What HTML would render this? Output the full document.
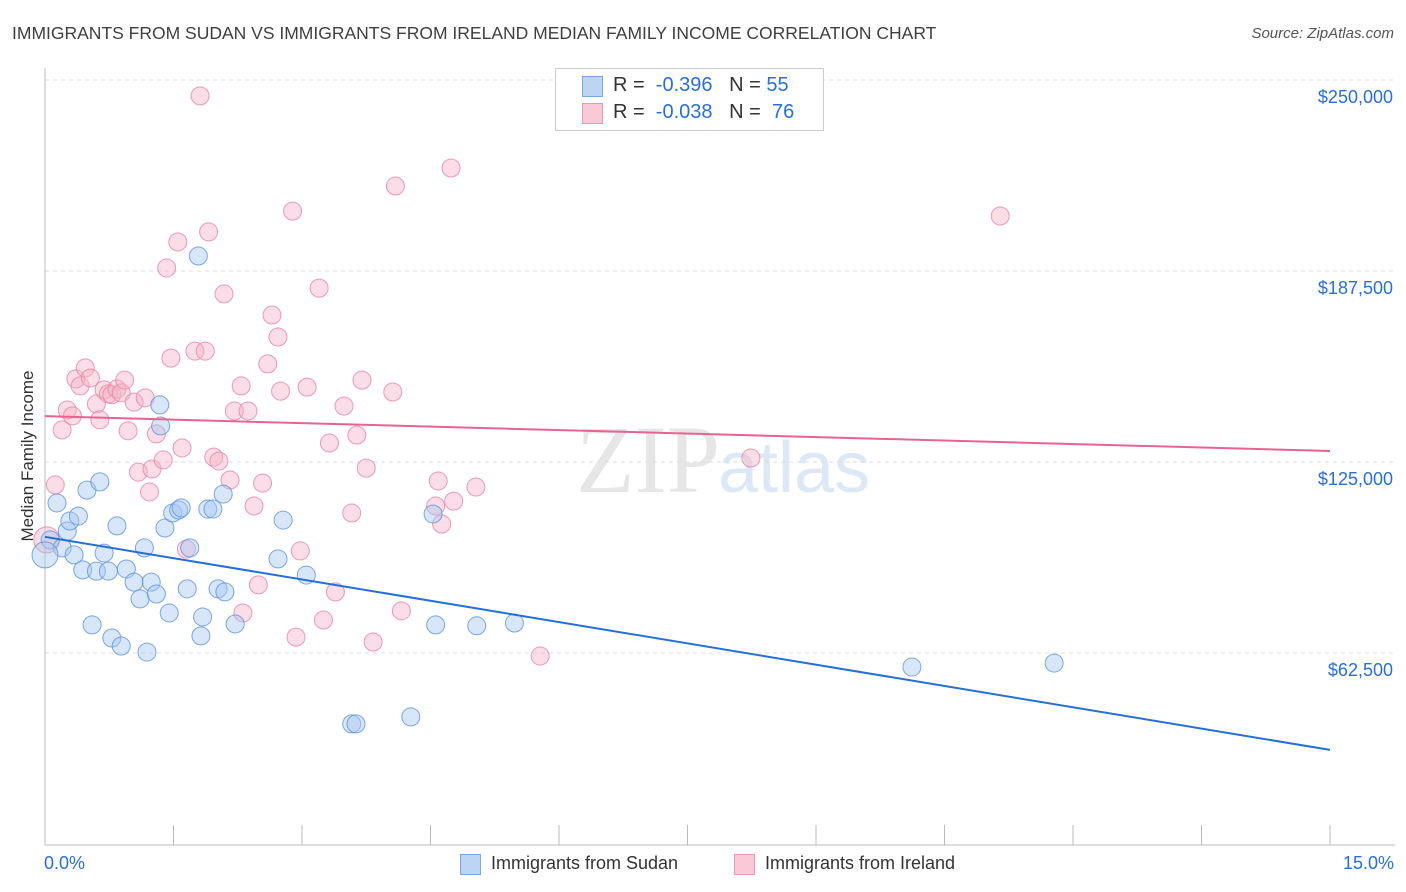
<!DOCTYPE html>
<html><head><meta charset="utf-8"><style>
body{margin:0;background:#fff;font-family:"Liberation Sans",sans-serif;}
#wrap{position:relative;width:1406px;height:892px;overflow:hidden;}
.t{position:absolute;white-space:nowrap;}
</style></head><body>
<div id="wrap">
<div class="t" style="left:12px;top:23px;font-size:17.5px;color:#3f3f3f;">IMMIGRANTS FROM SUDAN VS IMMIGRANTS FROM IRELAND MEDIAN FAMILY INCOME CORRELATION CHART</div>
<div class="t" style="right:12px;top:25px;font-size:15px;color:#555;font-style:italic;">Source: ZipAtlas.com</div>
<svg id="svg" width="1406" height="892" style="position:absolute;left:0;top:0">
<text x="720" y="492" text-anchor="end" font-family="Liberation Serif" font-size="96" fill="#e6e6e6">ZIP</text>
<text x="718" y="492" font-family="Liberation Sans" font-size="72" fill="#dce8f6">atlas</text>
</svg>
<div class="t" style="left:28px;top:456px;font-size:17px;color:#333;transform:translate(-50%,-50%) rotate(-90deg);">Median Family Income</div>
<div style="position:absolute;left:555px;top:68px;width:267px;height:61px;border:1px solid #ccc;background:#fff;"></div>
<div style="position:absolute;left:582px;top:76px;width:19px;height:19px;background:#bcd5f5;border:1px solid #7aa8e4;"></div>
<div class="t" style="left:613px;top:74px;font-size:20px;color:#333;">R = <span style="color:#2b6fd6">&nbsp;-0.396</span> &nbsp;&nbsp;N = <span style="color:#2b6fd6">55</span></div>
<div style="position:absolute;left:582px;top:103px;width:19px;height:19px;background:#f9c9d8;border:1px solid #ec99b3;"></div>
<div class="t" style="left:613px;top:101px;font-size:20px;color:#333;">R = <span style="color:#2b6fd6">&nbsp;-0.038</span> &nbsp;&nbsp;N = <span style="color:#2b6fd6">&nbsp;76</span></div>
<div class="t" style="left:44px;top:853px;font-size:18px;color:#2b6fd6;">0.0%</div>
<div class="t" style="right:12px;top:853px;font-size:18px;color:#2b6fd6;">15.0%</div>
<div style="position:absolute;left:460px;top:854px;width:19px;height:19px;background:#bcd5f5;border:1px solid #7aa8e4;"></div>
<div class="t" style="left:491px;top:853px;font-size:18px;color:#333;">Immigrants from Sudan</div>
<div style="position:absolute;left:734px;top:854px;width:19px;height:19px;background:#f9c9d8;border:1px solid #ec99b3;"></div>
<div class="t" style="left:765px;top:853px;font-size:18px;color:#333;">Immigrants from Ireland</div>
</div>
<script>
const yTicks=[250000,187500,125000,62500];
const yTickLabels=["$250,000","$187,500","$125,000","$62,500"];
const sudanX=[0.06,0.14,0.20,0.26,0.29,0.34,0.39,0.44,0.49,0.55,0.60,0.64,0.69,0.74,0.78,0.84,0.89,0.95,1.04,1.11,1.16,1.19,1.24,1.30,1.34,1.35,1.40,1.45,1.49,1.56,1.59,1.66,1.69,1.79,1.82,1.84,1.90,1.96,2.02,2.08,2.10,2.22,2.72,2.78,3.05,3.58,3.63,4.27,4.53,4.56,5.04,5.48,10.12,11.78,0];
const sudanY=[99500,111600,96900,102400,105700,94600,107300,89700,115800,71700,89300,118500,95200,89300,67400,104100,64800,90000,85700,80200,96900,62800,85700,81800,143700,136800,103400,75600,108300,109300,110000,83500,96900,192400,68100,74300,109600,109600,83500,114500,82500,72000,93300,106000,88000,39300,39300,41600,108000,71700,71400,72300,57900,59200,94600];
const irelandX=[0.02,0.12,0.20,0.26,0.32,0.36,0.41,0.47,0.53,0.60,0.64,0.69,0.74,0.78,0.84,0.89,0.93,0.97,1.04,1.09,1.17,1.22,1.25,1.30,1.38,1.42,1.47,1.55,1.60,1.65,1.75,1.81,1.87,1.91,1.97,2.03,2.09,2.16,2.21,2.29,2.31,2.37,2.44,2.49,2.54,2.60,2.65,2.72,2.75,2.89,2.93,2.98,3.06,3.20,3.25,3.32,3.39,3.49,3.58,3.64,3.70,3.75,3.83,4.06,4.09,4.16,4.59,4.56,4.63,4.74,4.77,5.03,5.78,8.24,11.15];
const irelandY=[99500,117500,135500,142000,140100,152200,149900,155800,152500,144000,138800,148600,147300,147000,148900,147600,151800,135200,144600,121700,146000,115200,122700,134200,125700,188500,159000,197000,129600,96500,161300,244800,161300,200300,126600,125300,180000,119100,141700,149900,75600,141700,110600,84800,118100,157100,173100,165900,148200,207100,67700,95900,149500,181900,73300,131200,82500,143300,108300,133800,151800,123000,66100,147900,215300,76300,118800,110600,104700,221200,112200,116800,61500,126300,205500];
const sudanTrend=[100500,30800];
const irelandTrend=[140000,128600];
const xDomain=[0,15];
const xTicks=[0,1.5,3,4.5,6,7.5,9,10.5,12,13.5,15];

const X0=45,X1=1330,Ytop=80,Ybot=844;
const xs=v=>X0+(v-xDomain[0])/(xDomain[1]-xDomain[0])*(X1-X0);
const ys=v=>Ybot-v/250000*(Ybot-Ytop);
const svg=document.getElementById('svg');
const NS='http://www.w3.org/2000/svg';
function mk(tag,attrs){const e=document.createElementNS(NS,tag);for(const k in attrs)e.setAttribute(k,attrs[k]);svg.appendChild(e);return e;}
yTicks.forEach((v,i)=>{
 const g=mk('line',{x1:X0,x2:1395,y1:ys(v),y2:ys(v),stroke:'#ddd','stroke-dasharray':'4,4'});
 
 
 const t=mk('text',{x:1393,y:ys(v)+23,'text-anchor':'end','font-size':'18','fill':'#2b6fd6','font-family':'Liberation Sans'});
 t.textContent=yTickLabels[i];
 
 
});
const ax=mk('line',{x1:X0,x2:X0,y1:68,y2:845,stroke:'#bbb'});


const bx=mk('line',{x1:X0,x2:1395,y1:845,y2:845,stroke:'#bbb'});


xTicks.forEach(v=>{
 const l=mk('line',{x1:xs(v),x2:xs(v),y1:825,y2:845,stroke:'#bbb'});
 
 
});
function pts(X,Y,fill,stroke,name){
 X.forEach((x,i)=>{
  const big=(x<=0.02);
  const c=mk('circle',{cx:xs(x),cy:ys(Y[i]),r:big?13:9,fill:fill,'fill-opacity':0.45,stroke:stroke,'stroke-opacity':0.8,'stroke-width':1});
  
  
 });
}
pts(irelandX,irelandY,'#f5b3c8','#e883a4','ireland-point');
pts(sudanX,sudanY,'#a8c8f2','#5b94dc','sudan-point');
const t1=mk('line',{x1:xs(xDomain[0]),x2:xs(xDomain[1]),y1:ys(sudanTrend[0]),y2:ys(sudanTrend[1]),stroke:'#2470d8','stroke-width':2});


const t2=mk('line',{x1:xs(xDomain[0]),x2:xs(xDomain[1]),y1:ys(irelandTrend[0]),y2:ys(irelandTrend[1]),stroke:'#e8648e','stroke-width':2});


</script>
</body></html>
